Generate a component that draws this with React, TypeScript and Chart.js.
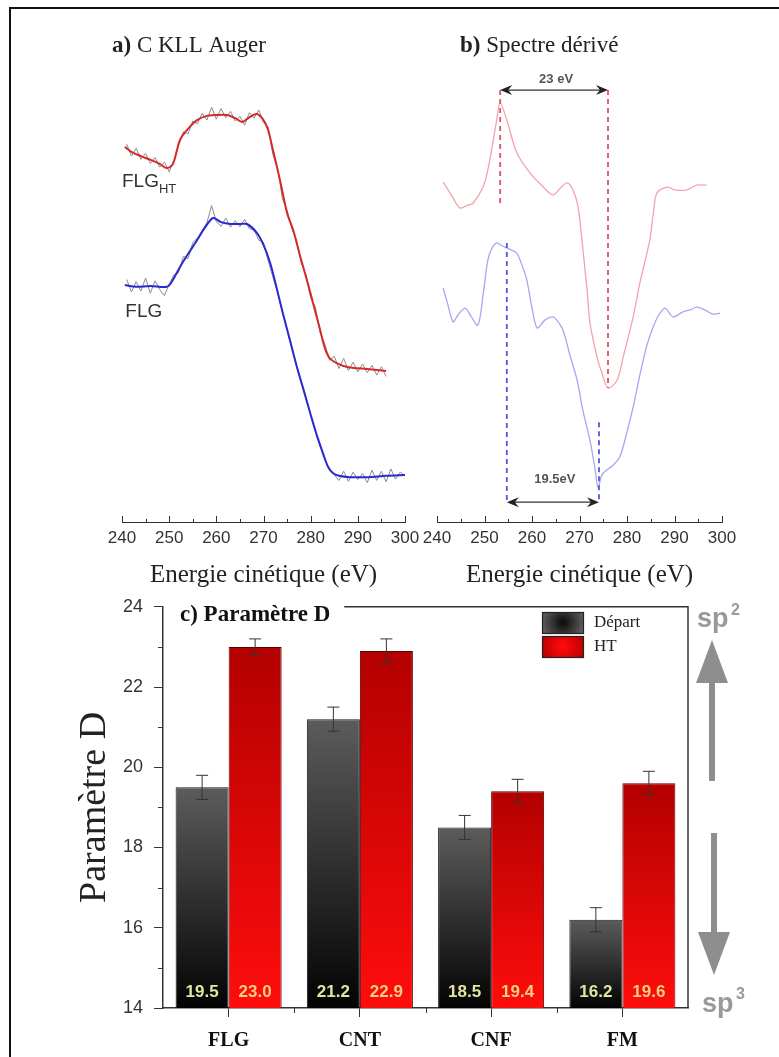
import React, { useEffect, useRef } from "react";
import { Chart, registerables } from "chart.js";

Chart.register(...registerables);
Chart.defaults.font.family = '"Liberation Sans", Arial, sans-serif';

// ---------------- Panel a) C KLL Auger (intensity, a.u.) ----------------
const augerHT_E = [240.6, 242, 244, 246, 248, 249.5, 250.8, 252.3, 254, 255.9, 258, 260, 262.3, 264, 265.5, 267, 268.6, 270, 271, 272, 273.5, 275, 276.3, 277.7, 279.2, 280.6, 282, 283, 284, 285.5, 288, 292, 296];
const augerHT_I = [81.2, 80.1, 79.2, 78.4, 77.5, 76.6, 77.5, 82.7, 85.1, 87.0, 87.9, 88.1, 88.1, 87.4, 86.6, 87.6, 88.3, 87.0, 84.8, 80.5, 74.0, 66.9, 63.2, 57.8, 52.4, 47.0, 41.6, 37.7, 35.5, 34.4, 33.5, 33.1, 32.7];
const augerFLG_E = [240.6, 243, 246, 249.5, 250.5, 252.3, 254, 255.9, 257.5, 259.3, 261, 263, 265, 266.5, 268.6, 270, 271.4, 272.8, 274.1, 275.6, 277.1, 278.5, 279.9, 281.3, 282.6, 283.7, 284.7, 286, 288.3, 292, 296, 300];
const augerFLG_I = [51.3, 50.9, 51.1, 50.9, 51.9, 55.2, 58.0, 61.0, 63.6, 65.8, 64.9, 64.5, 64.5, 64.5, 62.6, 60.0, 56.1, 50.6, 45.2, 39.4, 33.5, 28.6, 23.6, 18.8, 14.9, 11.9, 10.6, 10.0, 9.7, 9.7, 10.0, 10.2];
const rawHT_E = [241, 242, 243, 244, 245, 246, 247, 248, 249, 250, 251, 252, 253, 254, 255, 256, 257, 258, 259, 260, 261, 262, 263, 264, 265, 266, 267, 268, 269, 270, 271, 272, 273, 274, 275, 276, 277, 278, 279, 280, 281, 282, 283, 284, 285, 286, 287, 288, 289, 290, 291, 292, 293, 294, 295, 296];
const rawHT_I = [81.8, 79.2, 80.9, 78.5, 79.8, 77.6, 78.9, 76.8, 77.9, 75.8, 78.2, 81.5, 84.5, 84.0, 86.8, 86.2, 88.5, 87.0, 89.8, 87.2, 89.5, 87.5, 88.9, 86.8, 87.8, 85.9, 88.6, 87.4, 89.2, 86.5, 85.5, 79.5, 76.5, 70.0, 67.5, 63.5, 61.0, 56.0, 53.5, 48.5, 46.5, 41.0, 38.5, 35.0, 35.9, 33.2, 35.4, 32.8, 34.6, 32.5, 34.2, 32.3, 33.9, 31.8, 33.6, 31.5];
const rawFLG_E = [241, 242, 243, 244, 245, 246, 247, 248, 249, 250, 251, 252, 253, 254, 255, 256, 257, 258, 259, 260, 261, 262, 263, 264, 265, 266, 267, 268, 269, 270, 271, 272, 273, 274, 275, 276, 277, 278, 279, 280, 281, 282, 283, 284, 285, 286, 287, 288, 289, 290, 291, 292, 293, 294, 295, 296, 297, 298, 299, 300];
const rawFLG_I = [52.5, 49.8, 52.0, 50.0, 52.8, 49.5, 52.2, 50.3, 49.0, 51.5, 53.5, 54.0, 57.5, 57.0, 60.5, 61.5, 63.0, 64.8, 68.5, 65.0, 64.0, 65.8, 63.8, 65.2, 63.9, 65.5, 63.5, 63.2, 61.0, 60.5, 56.5, 53.0, 49.8, 45.5, 41.5, 37.5, 34.0, 30.0, 27.0, 23.0, 19.5, 16.5, 13.5, 11.5, 10.2, 9.0, 11.0, 8.8, 10.8, 9.2, 10.5, 8.5, 11.2, 9.0, 11.0, 8.7, 11.5, 9.3, 10.8, 10.0];

// ---------------- Panel b) Spectre dérivé (dN/dE, a.u.) ----------------
const derivHT_E = [241.3, 243, 244.8, 246.5, 247.6, 249.7, 250.7, 251.6, 252.5, 253.3, 254.7, 256.8, 259.6, 262, 264.4, 266, 267.4, 268.6, 269.7, 270.4, 271.6, 272.2, 273.7, 274.7, 276, 277.9, 279.2, 281.3, 282.7, 284.8, 285.5, 286.3, 288.4, 290, 292.6, 294.7, 296.8];
const derivHT_I = [73.6, 70.8, 68.0, 68.6, 69.0, 72.5, 76.2, 81.2, 86.6, 90.7, 87.0, 79.9, 75.5, 72.9, 70.8, 72.3, 73.4, 71.9, 68.2, 62.1, 50.2, 43.1, 35.7, 32.3, 29.0, 30.7, 35.7, 44.4, 51.7, 61.0, 66.5, 71.2, 72.5, 71.9, 71.9, 72.9, 72.9];
const derivFLG_E = [241.3, 242.3, 243.4, 244.4, 245.9, 247, 248.6, 249.7, 250.7, 251.6, 252.6, 253.5, 254.3, 255.6, 256.8, 257.9, 258.9, 260, 261.1, 262.7, 264.4, 265.5, 266.5, 268, 269.5, 270.7, 272.2, 273.3, 273.9, 274.7, 275.8, 277.1, 278.5, 280, 281.3, 282.7, 284.2, 285.5, 286.7, 288, 289.7, 291.8, 293.3, 294.7, 296.4, 298.1, 299.6];
const derivFLG_I = [50.6, 47.0, 43.3, 44.8, 46.3, 44.8, 42.6, 49.1, 56.7, 59.3, 60.4, 59.9, 59.5, 58.9, 58.2, 55.6, 52.4, 46.3, 42.0, 43.7, 44.4, 43.3, 41.6, 36.1, 30.7, 24.2, 17.7, 11.3, 7.4, 10.2, 11.3, 12.3, 14.1, 19.5, 24.9, 31.8, 38.3, 42.2, 44.8, 46.3, 44.4, 45.5, 45.9, 46.5, 45.9, 45.0, 45.2];
// marker positions (eV) and their vertical extents (a.u.)
const htMarkerE = [253.3, 276.0];
const htMarkerTop = [93.5, 93.5];
const htMarkerBottom = [68.6, 29.0];
const flgMarkerE = [254.7, 274.1];
const flgMarkerTop = [60.4, 21.6];
const flgMarkerBottom = [4.3, 4.3];
const gapLabels = ["23 eV", "19.5eV"];

// ---------------- Panel c) Paramètre D ----------------
const materials = ["FLG", "CNT", "CNF", "FM"];
const departValues = [19.5, 21.2, 18.5, 16.2];
const departErrors = [0.3, 0.3, 0.3, 0.3];
const htValues = [23.0, 22.9, 19.4, 19.6];
const htErrors = [0.2, 0.3, 0.3, 0.3];
const yTicksD = [14, 16, 18, 20, 22, 24];

const pts = (xs: number[], ys: number[]) => xs.map((x, i) => ({ x, y: ys[i] }));

function drawArrowHead(ctx: CanvasRenderingContext2D, x: number, y: number, dir: number) {
  ctx.beginPath();
  ctx.moveTo(x, y);
  ctx.lineTo(x - dir * 12, y - 5);
  ctx.lineTo(x - dir * 8, y);
  ctx.lineTo(x - dir * 12, y + 5);
  ctx.closePath();
  ctx.fill();
}

function spectrumTicks(chart: any) {
  const { ctx } = chart;
  const xs = chart.scales.x;
  const bottom = chart.chartArea.bottom;
  ctx.save();
  ctx.strokeStyle = "#333";
  ctx.lineWidth = 1;
  for (let e = 240; e <= 300; e += 5) {
    const px = Math.round(xs.getPixelForValue(e)) + 0.5;
    const len = e % 10 === 0 ? 6 : 3;
    ctx.beginPath();
    ctx.moveTo(px, bottom);
    ctx.lineTo(px, bottom - len);
    ctx.stroke();
  }
  ctx.restore();
}

function drawPanelTitle(ctx: CanvasRenderingContext2D, x: number, y: number, tag: string, text: string) {
  ctx.save();
  ctx.fillStyle = "#222";
  ctx.textBaseline = "middle";
  ctx.textAlign = "left";
  ctx.font = 'bold 23px "Liberation Serif"';
  ctx.fillText(tag, x, y);
  const w = ctx.measureText(tag + " ").width;
  ctx.font = '23px "Liberation Serif"';
  ctx.fillText(text, x + w, y);
  ctx.restore();
}

const panelAPlugin = {
  id: "panelA",
  afterDraw(chart: any) {
    const { ctx } = chart;
    const xs = chart.scales.x;
    const ys = chart.scales.y;
    spectrumTicks(chart);
    drawPanelTitle(ctx, 22, 26, "a)", "C KLL Auger");
    ctx.save();
    ctx.fillStyle = "#333";
    ctx.textBaseline = "middle";
    ctx.textAlign = "left";
    ctx.font = '19px "Liberation Sans"';
    const hx = xs.getPixelForValue(240.0);
    const hy = ys.getPixelForValue(73.6);
    ctx.fillText("FLG", hx, hy);
    const fw = ctx.measureText("FLG").width;
    ctx.font = '13px "Liberation Sans"';
    ctx.fillText("HT", hx + fw, hy + 7);
    ctx.font = '19px "Liberation Sans"';
    ctx.fillText("FLG", xs.getPixelForValue(240.7), ys.getPixelForValue(45.6));
    ctx.restore();
  },
};

const panelBPlugin = {
  id: "panelB",
  afterDraw(chart: any) {
    const { ctx } = chart;
    const xs = chart.scales.x;
    const ys = chart.scales.y;
    spectrumTicks(chart);
    drawPanelTitle(ctx, 50, 26, "b)", "Spectre dérivé");
    const arrows = [
      { x1: htMarkerE[0], x2: htMarkerE[1], y: htMarkerTop[0], label: gapLabels[0], dy: -11 },
      { x1: flgMarkerE[0], x2: flgMarkerE[1], y: flgMarkerBottom[0], label: gapLabels[1], dy: -23 },
    ];
    ctx.save();
    for (const a of arrows) {
      const p1 = xs.getPixelForValue(a.x1);
      const p2 = xs.getPixelForValue(a.x2);
      const py = ys.getPixelForValue(a.y);
      ctx.strokeStyle = "#333";
      ctx.fillStyle = "#222";
      ctx.lineWidth = 1.3;
      ctx.beginPath();
      ctx.moveTo(p1 + 6, py);
      ctx.lineTo(p2 - 6, py);
      ctx.stroke();
      drawArrowHead(ctx, p1, py, -1);
      drawArrowHead(ctx, p2, py, 1);
      ctx.fillStyle = "#555";
      ctx.font = 'bold 13px "Liberation Sans"';
      ctx.textAlign = "center";
      ctx.textBaseline = "middle";
      ctx.fillText(a.label, (p1 + p2) / 2 + 2, py + a.dy);
    }
    ctx.restore();
  },
};

function spectrumConfig(datasets: any[], plugin: any, padLeft: number, padRight: number) {
  return {
    type: "line",
    data: { datasets },
    options: {
      responsive: false,
      animation: false,
      events: [],
      layout: { padding: { left: padLeft, right: padRight, top: 40, bottom: 0 } },
      plugins: { legend: { display: false }, tooltip: { enabled: false } },
      elements: { point: { radius: 0 } },
      scales: {
        x: {
          type: "linear",
          min: 240,
          max: 300,
          ticks: { stepSize: 10, color: "#333", font: { size: 17 }, padding: 6 },
          grid: { display: true, drawOnChartArea: false, drawTicks: false },
          border: { display: true, color: "#333", width: 1 },
          title: {
            display: true,
            text: "Energie cinétique (eV)",
            color: "#222",
            font: { family: '"Liberation Serif"', size: 25 },
            padding: { top: 0, bottom: 5 },
          },
          afterFit: (s: any) => {
            s.height = 73;
          },
        },
        y: { type: "linear", display: false, min: 0, max: 100 },
      },
    },
    plugins: [plugin],
  };
}

function lineDs(data: any, color: string, width: number, tension: number, extra: any = {}) {
  return { data, borderColor: color, borderWidth: width, tension, pointRadius: 0, fill: false, ...extra };
}

function barGradient(top: string, bottom: string) {
  return (c: any) => {
    const ch = c.chart;
    const a = ch.chartArea;
    if (!a || c.type !== "data" || !ch.scales.y) return bottom;
    const t = ch.scales.y.getPixelForValue(c.raw);
    const g = ch.ctx.createLinearGradient(0, t, 0, a.bottom);
    g.addColorStop(0, top);
    g.addColorStop(1, bottom);
    return g;
  };
}

const barDecorPlugin = {
  id: "barDecor",
  afterDatasetsDraw(chart: any) {
    const { ctx, chartArea } = chart;
    const ys = chart.scales.y;
    ctx.save();
    chart.data.datasets.forEach((ds: any, di: number) => {
      const meta = chart.getDatasetMeta(di);
      meta.data.forEach((bar: any, i: number) => {
        const v = ds.data[i];
        const e = ds.errors[i];
        const yt = ys.getPixelForValue(v + e);
        const yb = ys.getPixelForValue(v - e);
        ctx.strokeStyle = "#333";
        ctx.lineWidth = 1;
        ctx.beginPath();
        ctx.moveTo(bar.x, yt);
        ctx.lineTo(bar.x, yb);
        ctx.moveTo(bar.x - 6, yt);
        ctx.lineTo(bar.x + 6, yt);
        ctx.moveTo(bar.x - 6, yb);
        ctx.lineTo(bar.x + 6, yb);
        ctx.stroke();
        ctx.fillStyle = ds.valueColor;
        ctx.font = 'bold 17px "Liberation Sans"';
        ctx.textAlign = "center";
        ctx.textBaseline = "middle";
        ctx.fillText(v.toFixed(1), bar.x, chartArea.bottom - 16);
      });
    });
    ctx.restore();
  },
  afterDraw(chart: any) {
    const { ctx, chartArea } = chart;
    const xs = chart.scales.x;
    const ys = chart.scales.y;
    ctx.save();
    ctx.strokeStyle = "#333";
    ctx.lineWidth = 1;
    // minor ticks
    for (let v = 15; v < 24; v += 2) {
      const py = Math.round(ys.getPixelForValue(v)) + 0.5;
      ctx.beginPath();
      ctx.moveTo(chartArea.left, py);
      ctx.lineTo(chartArea.left - 5, py);
      ctx.stroke();
    }
    for (let i = 0; i < materials.length - 1; i++) {
      const px = Math.round(xs.getPixelForValue(i + 0.5)) + 0.5;
      ctx.beginPath();
      ctx.moveTo(px, chartArea.bottom);
      ctx.lineTo(px, chartArea.bottom + 5);
      ctx.stroke();
    }
    // title
    ctx.fillStyle = "#111";
    ctx.font = 'bold 23px "Liberation Serif"';
    ctx.textAlign = "left";
    ctx.textBaseline = "middle";
    const tx = 180;
    ctx.fillText("c) Paramètre D", tx, 30);
    const tw = ctx.measureText("c) Paramètre D").width;
    // frame (top + right)
    ctx.lineWidth = 1.5;
    ctx.strokeStyle = "#333";
    ctx.beginPath();
    ctx.moveTo(tx + tw + 14, chartArea.top);
    ctx.lineTo(chartArea.right, chartArea.top);
    ctx.lineTo(chartArea.right, chartArea.bottom);
    ctx.stroke();
    // legend
    chart.data.datasets.forEach((ds: any, i: number) => {
      const bx = 542;
      const by = 27 + i * 24;
      const g = ctx.createRadialGradient(bx + 21, by + 10.5, 2, bx + 21, by + 10.5, 24);
      g.addColorStop(0, ds.legendInner);
      g.addColorStop(1, ds.legendOuter);
      ctx.fillStyle = g;
      ctx.fillRect(bx, by, 42, 22);
      ctx.lineWidth = 1.2;
      ctx.strokeStyle = "#222";
      ctx.strokeRect(bx + 0.5, by + 0.5, 41, 21);
      ctx.fillStyle = "#222";
      ctx.font = '17px "Liberation Serif"';
      ctx.textAlign = "left";
      ctx.textBaseline = "middle";
      ctx.fillText(ds.label, 594, by + 11);
    });
    // sp2 / sp3 arrows
    const grey = "#8e8e8e";
    ctx.fillStyle = grey;
    ctx.beginPath();
    ctx.moveTo(712, 55);
    ctx.lineTo(728, 98);
    ctx.lineTo(715, 98);
    ctx.lineTo(715, 196);
    ctx.lineTo(709, 196);
    ctx.lineTo(709, 98);
    ctx.lineTo(696, 98);
    ctx.closePath();
    ctx.fill();
    ctx.beginPath();
    ctx.moveTo(714, 390);
    ctx.lineTo(730, 347);
    ctx.lineTo(717, 347);
    ctx.lineTo(717, 248);
    ctx.lineTo(711, 248);
    ctx.lineTo(711, 347);
    ctx.lineTo(698, 347);
    ctx.closePath();
    ctx.fill();
    ctx.fillStyle = "#999";
    ctx.textAlign = "left";
    ctx.textBaseline = "alphabetic";
    ctx.font = 'bold 27px "Liberation Sans"';
    ctx.fillText("sp", 697, 42);
    ctx.fillText("sp", 702, 427);
    ctx.font = 'bold 16px "Liberation Sans"';
    ctx.fillText("2", 731, 30);
    ctx.fillText("3", 736, 414);
    ctx.restore();
  },
};

function useChart(ref: React.RefObject<HTMLCanvasElement>, make: () => any) {
  useEffect(() => {
    if (!ref.current) return;
    const chart = new Chart(ref.current, make());
    return () => chart.destroy();
  }, []);
}

export default function App() {
  const aRef = useRef<HTMLCanvasElement>(null);
  const bRef = useRef<HTMLCanvasElement>(null);
  const cRef = useRef<HTMLCanvasElement>(null);

  useChart(aRef, () =>
    spectrumConfig(
      [
        lineDs(pts(augerHT_E, augerHT_I), "#d42a2a", 2, 0.3),
        lineDs(pts(augerFLG_E, augerFLG_I), "#2a2ad0", 2, 0.3),
        lineDs(pts(rawHT_E, rawHT_I), "#8c8c8c", 1, 0),
        lineDs(pts(rawFLG_E, rawFLG_I), "#8c8c8c", 1, 0),
      ],
      panelAPlugin,
      32,
      30
    )
  );

  useChart(bRef, () =>
    spectrumConfig(
      [
        lineDs(pts([htMarkerE[0], htMarkerE[0]], [htMarkerTop[0], htMarkerBottom[0]]), "#e0506a", 1.8, 0, { borderDash: [5, 4] }),
        lineDs(pts([htMarkerE[1], htMarkerE[1]], [htMarkerTop[1], htMarkerBottom[1]]), "#e0506a", 1.8, 0, { borderDash: [5, 4] }),
        lineDs(pts([flgMarkerE[0], flgMarkerE[0]], [flgMarkerTop[0], flgMarkerBottom[0]]), "#5555e0", 1.8, 0, { borderDash: [5, 4] }),
        lineDs(pts([flgMarkerE[1], flgMarkerE[1]], [flgMarkerTop[1], flgMarkerBottom[1]]), "#5555e0", 1.8, 0, { borderDash: [5, 4] }),
        lineDs(pts(derivHT_E, derivHT_I), "#f2a4ac", 1.3, 0.3),
        lineDs(pts(derivFLG_E, derivFLG_I), "#a6a6f2", 1.3, 0.3),
      ],
      panelBPlugin,
      27,
      33
    )
  );

  useChart(cRef, () => ({
    type: "bar",
    data: {
      labels: materials,
      datasets: [
        {
          label: "Départ",
          data: departValues,
          errors: departErrors,
          valueColor: "#e4e4a2",
          legendInner: "#111",
          legendOuter: "#6a6a6a",
          backgroundColor: barGradient("#5c5c5c", "#030303"),
          borderColor: "#1a1a1a",
          borderWidth: 1,
        },
        {
          label: "HT",
          data: htValues,
          errors: htErrors,
          valueColor: "#f6d07e",
          legendInner: "#ff0a0a",
          legendOuter: "#b00000",
          backgroundColor: barGradient("#b30000", "#ff0d0d"),
          borderColor: "#5a0000",
          borderWidth: 1,
        },
      ],
    },
    options: {
      responsive: false,
      animation: false,
      events: [],
      layout: { padding: { left: 50, right: 91, top: 17, bottom: 0 } },
      plugins: { legend: { display: false }, tooltip: { enabled: false } },
      datasets: { bar: { categoryPercentage: 0.808, barPercentage: 1.0 } },
      scales: {
        x: {
          type: "category",
          offset: true,
          ticks: { color: "#111", font: { family: '"Liberation Serif"', size: 20, weight: "bold" }, padding: 12 },
          grid: { display: true, drawOnChartArea: false, offset: false, tickLength: 9, color: "#333" },
          border: { display: true, color: "#333", width: 1.5 },
          afterFit: (s: any) => {
            s.height = 49;
          },
        },
        y: {
          type: "linear",
          min: 14,
          max: 24,
          afterBuildTicks: (s: any) => {
            s.ticks = yTicksD.map((v) => ({ value: v }));
          },
          ticks: { color: "#333", font: { size: 18 }, padding: 11 },
          grid: { display: true, drawOnChartArea: false, tickLength: 9, color: "#333" },
          border: { display: true, color: "#333", width: 1.5 },
          title: {
            display: true,
            text: "Paramètre D",
            color: "#222",
            font: { family: '"Liberation Serif"', size: 38 },
            padding: { top: 22, bottom: 0 },
          },
          afterFit: (s: any) => {
            s.width = 113;
          },
        },
      },
    },
    plugins: [barDecorPlugin],
  }));

  const abs = (l: number, t: number): React.CSSProperties => ({ position: "absolute", left: l, top: t });

  return (
    <div style={{ position: "absolute", left: 0, top: 0, width: 779, height: 1057, overflow: "hidden", background: "#fff" }}>
      <div
        style={{
          position: "absolute",
          left: 9,
          top: 7,
          width: 770,
          height: 1050,
          borderTop: "2px solid #111",
          borderLeft: "2px solid #111",
          boxSizing: "border-box",
        }}
      />
      <canvas ref={aRef} width={345} height={575} style={abs(90, 20)} />
      <canvas ref={bRef} width={345} height={575} style={abs(410, 20)} />
      <canvas ref={cRef} width={779} height={472} style={abs(0, 585)} />
    </div>
  );
}
